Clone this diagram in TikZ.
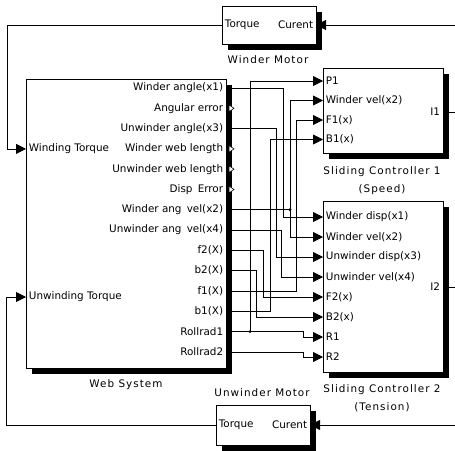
\documentclass[tikz,border=0pt]{standalone}
\usepackage{fontspec}
\setsansfont{DejaVu Sans}
\usetikzlibrary{arrows.meta,shadows}
\tikzset{
 blk/.style={draw,fill=white,inner sep=0pt,outer sep=0pt,line width=.8pt,
  drop shadow={shadow xshift=6pt,shadow yshift=-6pt,fill=black,opacity=1}},
 sig/.style={-{Triangle[length=10pt,width=10pt]}},
 plab/.style={inner sep=2.5pt},
 ttl/.style={font=\sffamily\fontsize{10.4}{18}\selectfont\addfontfeature{LetterSpace=10},align=center},
}

\begin{document}
\begin{tikzpicture}[x=1pt,y=-1pt,font=\sffamily\fontsize{10.4}{12}\selectfont,line width=.8pt]
\useasboundingbox (0,0) rectangle (455,450);
\node[blk,minimum width=200pt,minimum height=289pt] (web) at (126,223.5) {};
\node[blk,minimum width=94pt,minimum height=38pt] (wm) at (269,25) {};
\node[blk,minimum width=94pt,minimum height=40pt] (um) at (263,425) {};
\node[blk,minimum width=120pt,minimum height=85pt] (sc1) at (383,110.5) {};
\node[blk,minimum width=120pt,minimum height=171pt] (sc2) at (383,286.5) {};
\node[plab,anchor=west] (wmt) at (wm.west) {Torque};
\node[plab,anchor=east] (wmc) at (wm.east) {Curent};
\node[plab,anchor=west] (umt) at (um.west) {Torque};
\node[plab,anchor=east] (umc) at (um.east) {Curent};
\node[ttl] (wmlab) at (268,60) {Winder Motor};
\node[ttl] (umlab) at (262,393) {Unwinder Motor};
\node[ttl] (weblab) at (126,385) {Web System};
\node[ttl] (sc1lab) at (382,181) {Sliding Controller 1\\(Speed)};
\node[ttl] (sc2lab) at (382,398) {Sliding Controller 2\\(Tension)};
\foreach \t [count=\i] in {{Winder angle(x1)},{Angular error},{Unwinder angle(x3)},
 {Winder web length},{Unwinder web length},{Disp\enspace Error},{Winder ang\enspace vel(x2)},
 {Unwinder ang\enspace vel(x4)},{f2(X)},{b2(X)},{f1(X)},{b1(X)},{Rollrad1},{Rollrad2}}{
 \coordinate (wo\i) at (226,{88+20.3*(\i-1)});
 \node[plab,anchor=east] (wl\i) at (wo\i) {\t};
}
\coordinate (wi1) at (26,148.9);
\coordinate (wi2) at (26,297);
\node[plab,anchor=west] (wil1) at (wi1) {Winding Torque};
\node[plab,anchor=west] (wil2) at (wi2) {Unwinding Torque};
\foreach \t [count=\i] in {{P1},{Winder vel(x2)},{F1(x)},{B1(x)}}{
 \coordinate (ai\i) at (323,{81+19.5*(\i-1)});
 \node[plab,anchor=west] (al\i) at (ai\i) {\t};
}
\coordinate (ao) at (443,112);
\node[plab,anchor=east] (aol) at (ao) {I1};
\foreach \t [count=\i] in {{Winder disp(x1)},{Winder vel(x2)},{Unwinder disp(x3)},
 {Unwinder vel(x4)},{F2(x)},{B2(x)},{R1},{R2}}{
 \coordinate (bi\i) at (323,{217+20*(\i-1)});
 \node[plab,anchor=west] (bl\i) at (bi\i) {\t};
}
\coordinate (bo) at (443,287);
\node[plab,anchor=east] (bol) at (bo) {I2};
\foreach \i in {2,4,5,6}
 \draw[fill=white,line width=.6pt] (wo\i) ++(3,-3.5) -- ++(5,3.5) -- ++(-5,3.5) -- cycle;
\draw[sig] (wo1) -- ++(57,0) |- (bi1);
\draw (wo7) -- ++(64,0) coordinate (j7);
\draw[sig] (j7) |- (ai2);
\draw[sig] (j7) |- (bi2);
\draw[sig] (wo3) -- ++(50,0) |- (bi3);
\draw[sig] (wo8) -- ++(55,0) |- (bi4);
\draw[sig] (wo9) -- ++(37,0) |- (bi5);
\draw[sig] (wo10) -- ++(30,0) |- (bi6);
\draw[sig] (wo11) -- ++(70,0) |- (ai3);
\draw[sig] (wo12) -- ++(44,0) |- (ai4);
\draw[sig] (wo13) -- ++(77,0) |- (bi7);
\draw[sig] (wo14) -- ++(77,0) |- (bi8);
\path (wo13) ++(24,0) coordinate (j13);
\draw[sig] (j13) |- (ai1);
\fill (j7) circle (1.6pt) (j13) circle (1.6pt);
\draw[sig] (wm.west) -- ++(-215,0) |- (wi1);
\draw[sig] (um.west) -- ++(-210,0) |- (wi2);
\draw[sig] (ao) -- ++(20,0) |- (wm.east);
\draw[sig] (bo) -- ++(20,0) |- (um.east);
\end{tikzpicture}
\end{document}
